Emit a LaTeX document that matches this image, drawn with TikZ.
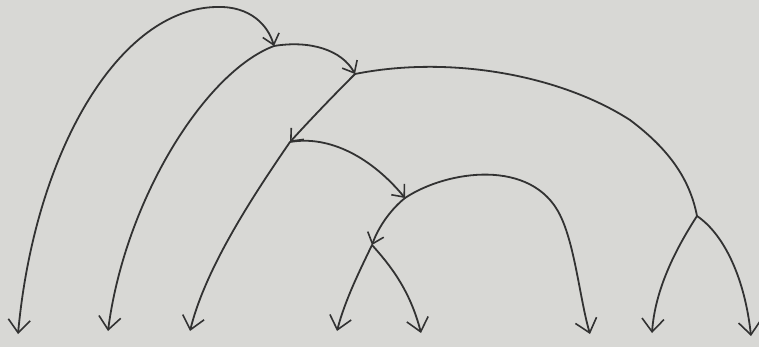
\documentclass[tikz,border=0pt]{standalone}
\usetikzlibrary{arrows.meta}
\begin{document}
\definecolor{paper}{RGB}{216,216,213}
\definecolor{pencil}{RGB}{50,50,50}
\tikzset{
  edge/.style={draw=pencil, line width=1.8pt, line cap=round},
  leafarrow/.style={edge, -{Straight Barb[length=13pt,width=22pt,line width=1.6pt]}},
  innerarrow/.style={edge, -{Straight Barb[length=10pt,width=17pt,line width=1.6pt]}},
  bothway/.style={edge, {Straight Barb[length=13pt,width=22pt,line width=1.6pt]}-{Straight Barb[length=10pt,width=17pt,line width=1.6pt]}},
}
\begin{tikzpicture}[x=1pt,y=-1pt]
\fill[paper] (0,0) rectangle (759,347);
\useasboundingbox (0,0) rectangle (759,347);
% inner junctions
\coordinate (n1) at (274,46);
\coordinate (n2) at (355,74);
\coordinate (n3) at (290,142);
\coordinate (n4) at (405,198);
\coordinate (n5) at (372,245);
\coordinate (n6) at (697,216);
% leaves
\coordinate (L1) at (18,334);
\coordinate (L2) at (108,331);
\coordinate (L3) at (190,331);
\coordinate (L4) at (337,331);
\coordinate (L5) at (421,333);
\coordinate (L6) at (590,334);
\coordinate (L7) at (652,333);
\coordinate (L8) at (751,336);
% outer arc
\draw[bothway] (L1) .. controls (35,150) and (120,8) .. (217,7) .. controls (250,6) and (268,25) .. (n1);
% from n1
\draw[leafarrow] (n1) .. controls (205,72) and (125,200) .. (L2);
\draw[innerarrow] (n1) .. controls (310,40) and (342,50) .. (n2);
% from n2
\draw[innerarrow] (n2) .. controls (332,97) and (310,120) .. (n3);
\draw[edge] (n2) .. controls (450,55) and (560,75) .. (630,120) .. controls (670,150) and (690,180) .. (n6);
% from n3
\draw[leafarrow] (n3) .. controls (250,200) and (205,270) .. (L3);
\draw[innerarrow] (n3) .. controls (330,135) and (372,158) .. (n4);
% from n4
\draw[leafarrow] (n4) .. controls (447,170) and (532,158) .. (560,215) .. controls (575,245) and (580,300) .. (L6);
\draw[innerarrow] (n4) .. controls (390,210) and (378,228) .. (n5);
% from n5
\draw[leafarrow] (n5) .. controls (360,270) and (345,300) .. (L4);
\draw[leafarrow] (n5) .. controls (390,265) and (410,290) .. (L5);
% from n6
\draw[leafarrow] (n6) .. controls (675,250) and (655,290) .. (L7);
\draw[leafarrow] (n6) .. controls (725,235) and (745,280) .. (L8);
\end{tikzpicture}
\end{document}
